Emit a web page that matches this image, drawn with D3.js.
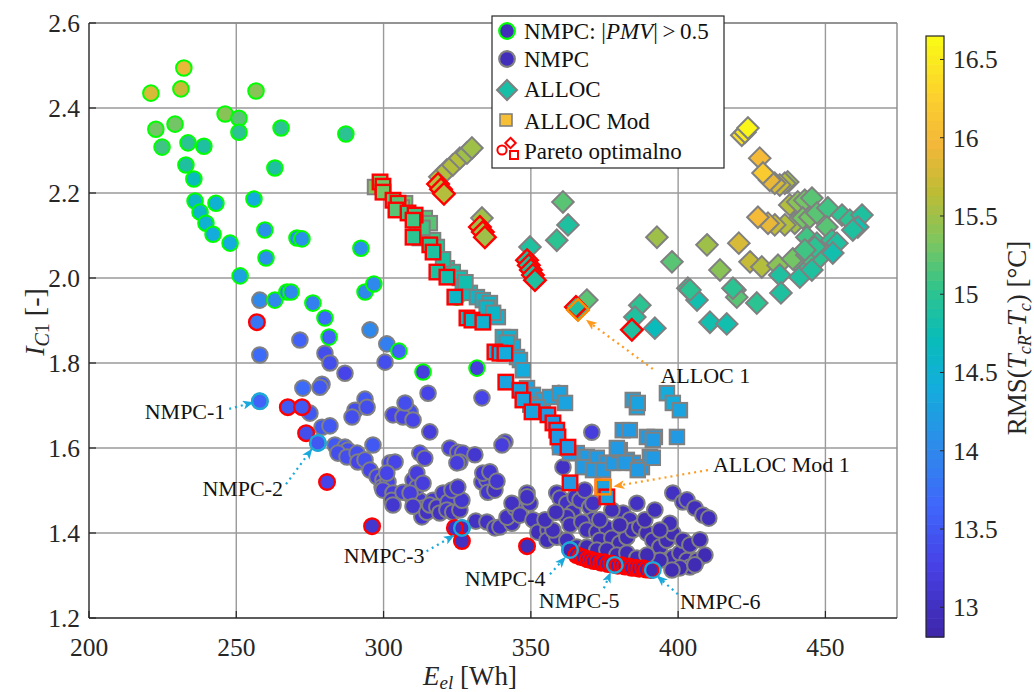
<!DOCTYPE html>
<html lang="en">
<head>
<meta charset="utf-8">
<title>Pareto NMPC / ALLOC</title>
<script src="https://cdn.jsdelivr.net/npm/d3@7"></script>
<style>
    body { margin: 0; background: #fff; }
    svg, svg text { font-family: "Liberation Serif", "Times New Roman", serif; }
</style>
</head>
<body>
<svg id="chart" width="1034" height="692" font-family="Liberation Serif, serif"></svg>
<script>
// ---- data: [E_el (Wh), I_C1, RMS (degC)] ----
var nmpcPmv = [
    [232.2,2.494,15.9],[221.0,2.435,15.8],[231.2,2.445,15.7],[256.7,2.440,15.4],[246.2,2.386,15.4],
    [250.9,2.376,15.2],[250.9,2.343,15.0],[265.2,2.353,15.0],[287.2,2.339,15.0],[222.7,2.350,15.3],
    [229.2,2.362,15.3],[224.8,2.308,15.1],[233.6,2.318,15.0],[239.0,2.310,14.9],[232.9,2.266,14.9],
    [235.6,2.233,14.7],[263.1,2.259,14.9],[236.0,2.181,14.6],[243.1,2.176,14.5],[237.7,2.155,14.6],
    [239.7,2.129,14.5],[242.1,2.103,14.4],[247.9,2.082,14.4],[256.0,2.186,14.4],[259.7,2.113,14.1],
    [270.6,2.094,14.1],[272.3,2.092,14.1],[260.1,2.047,14.1],[292.3,2.070,14.1],[251.3,2.005,14.3],
    [263.1,1.948,14.0],[267.2,1.967,14.0],[268.6,1.967,14.0],[276.0,1.941,13.9],[280.1,1.906,13.7],
    [281.5,1.861,13.6],[293.7,1.967,14.0],[296.7,1.986,14.0],[305.2,1.828,13.6],[313.4,1.779,13.2],
    [331.7,1.788,13.2],[324.9,1.955,13.9]
];

var nmpc = [
    [258.0,1.948,14.0],[271.6,1.854,13.6],[258.0,1.819,13.7],[280.1,1.823,13.4],[281.8,1.800,13.4],
    [286.9,1.776,13.3],[295.4,1.878,14.0],[300.5,1.802,13.4],[301.1,1.845,13.9],[279.1,1.750,13.5],
    [272.6,1.741,13.7],[278.4,1.743,13.5],[275.0,1.682,13.5],[279.1,1.649,13.5],[281.8,1.652,13.5],
    [293.7,1.715,13.5],[290.3,1.689,13.4],[289.3,1.673,13.4],[303.2,1.678,13.3],[309.0,1.685,13.4],
    [306.6,1.673,13.3],[310.0,1.666,13.3],[315.1,1.729,13.3],[315.7,1.638,13.2],[333.4,1.718,13.3],
    [341.2,1.614,13.2],[340.2,1.607,13.2],[294.4,1.696,13.4],[307.3,1.706,13.4],[258.0,1.710,13.6],
    [277.7,1.612,13.5],[283.5,1.607,13.5],[286.9,1.602,13.5],[287.9,1.595,13.4],[284.5,1.588,13.4],
    [287.6,1.579,13.4],[291.0,1.588,13.4],[291.3,1.567,13.3],[293.7,1.572,13.4],[296.4,1.607,13.5],
    [295.4,1.548,13.3],[297.8,1.532,13.3],[299.8,1.525,13.2],[299.5,1.508,13.2],[301.5,1.520,13.3],
    [302.2,1.565,13.3],[303.9,1.567,13.3],[301.1,1.541,13.3],[299.8,1.501,13.2],[303.2,1.494,13.2],
    [302.8,1.477,13.1],[303.2,1.466,13.1],[306.6,1.496,13.2],[309.6,1.485,13.2],[312.3,1.477,13.1],
    [313.4,1.459,13.1],[313.0,1.438,13.1],[310.0,1.525,13.2],[311.3,1.508,13.2],[311.3,1.541,13.2],
    [309.0,1.494,13.2],[310.0,1.463,13.1],[312.3,1.588,13.3],[314.0,1.576,13.2],[313.4,1.517,13.2],
    [316.8,1.477,13.1],[314.7,1.449,13.0],[315.7,1.466,13.1],[318.1,1.461,13.0],[319.1,1.447,13.0],
    [320.2,1.494,13.1],[321.9,1.473,13.1],[321.5,1.454,13.1],[323.5,1.449,13.0],[325.9,1.454,13.0],
    [326.6,1.477,13.1],[322.5,1.600,13.2],[325.2,1.590,13.2],[326.9,1.588,13.2],[325.9,1.567,13.2],
    [324.9,1.565,13.2],[331.0,1.584,13.1],[333.4,1.520,13.1],[335.1,1.525,13.1],[335.4,1.496,13.1],
    [337.8,1.501,13.0],[323.2,1.501,13.1],[325.2,1.508,13.1],[333.7,1.541,13.1],[336.1,1.544,13.1],
    [338.5,1.522,13.1],[326.6,1.412,13.0],[331.3,1.428,13.0],[335.1,1.426,13.0],[337.8,1.412,13.0],
    [339.5,1.414,13.0],[343.6,1.423,13.0],[341.9,1.437,13.0],[344.6,1.459,13.0],[343.6,1.470,13.0],
    [346.3,1.442,13.0],[348.7,1.494,13.0],[349.7,1.470,13.0],[350.7,1.431,13.0],[348.7,1.485,13.0],
    [352.4,1.402,12.95],[355.8,1.407,12.95],[355.5,1.383,12.95],[358.8,1.390,12.95],[357.5,1.407,12.95],
    [358.8,1.494,13.0],[359.9,1.482,13.0],[359.5,1.729,13.3],[370.7,1.637,13.2],[360.9,1.555,13.0],
    [362.2,1.595,13.1],[359.9,1.602,13.1],[362.2,1.470,13.0],[364.3,1.449,12.95],[365.0,1.485,13.0],
    [366.7,1.477,13.0],[368.3,1.501,13.0],[370.0,1.461,12.95],[371.1,1.470,13.0],[371.1,1.431,12.95],
    [362.2,1.438,12.95],[363.3,1.419,12.95],[367.3,1.426,12.95],[369.0,1.407,12.95],[372.4,1.402,12.9],
    [375.8,1.412,12.9],[373.4,1.383,12.9],[377.5,1.388,12.9],[380.2,1.376,12.9],[382.6,1.390,12.9],
    [386.0,1.470,13.0],[381.3,1.447,12.95],[383.6,1.431,12.95],[384.6,1.407,12.9],[387.0,1.414,12.9],
    [389.4,1.400,12.9],[391.4,1.383,12.9],[393.8,1.367,12.9],[396.2,1.383,12.9],[398.2,1.343,12.9],
    [400.6,1.353,12.9],[403.0,1.336,12.9],[404.0,1.320,12.9],[406.4,1.336,12.9],[398.2,1.400,12.9],
    [401.6,1.383,12.9],[397.2,1.423,12.95],[398.2,1.494,13.0],[401.6,1.473,13.0],[403.0,1.478,13.0],
    [405.7,1.459,12.95],[408.4,1.442,12.95],[410.4,1.435,12.95],[393.8,1.336,12.9],[400.6,1.318,12.9],
    [362.2,1.383,12.95],[365.6,1.367,12.95],[369.0,1.367,12.9],[372.4,1.360,12.9],[375.8,1.360,12.9],
    [379.2,1.348,12.9],[382.6,1.353,12.9],[386.0,1.341,12.9],[389.4,1.348,12.9],[363.3,1.360,12.9],
    [354.8,1.431,12.95],[358.5,1.449,12.95],[373.4,1.431,12.95],[377.5,1.454,12.95],[380.2,1.419,12.9],
    [388.7,1.431,12.9],[392.1,1.454,12.95],[393.8,1.407,12.9],[404.0,1.372,12.9],[407.4,1.384,12.9],
    [409.1,1.348,12.9],[397.9,1.313,12.9],[405.7,1.325,12.9]
];

var alloc = [
    [319.1,2.238,15.6],[321.5,2.254,15.6],[323.5,2.266,15.6],[325.9,2.282,15.6],[328.3,2.294,15.5],
    [330.0,2.306,15.5],[333.4,2.141,15.5],[349.7,2.073,14.9],[360.9,2.179,15.2],[362.6,2.125,14.9],
    [358.8,2.089,15.0],[369.0,1.948,15.2],[366.0,1.925,14.9],[387.0,1.936,15.0],[385.3,1.908,14.9],
    [392.1,1.882,14.7],[392.8,2.096,15.5],[397.9,2.038,15.2],[403.3,1.976,15.0],[406.4,1.948,14.8],
    [404.0,1.972,15.0],[409.8,2.078,15.5],[414.2,2.019,15.4],[420.6,2.082,15.8],[424.4,2.038,15.7],
    [428.4,2.026,15.6],[433.9,2.030,15.4],[434.5,2.007,14.9],[410.8,1.896,14.8],[416.5,1.892,14.8],
    [419.3,1.972,14.9],[419.9,1.955,15.2],[418.6,1.976,15.0],[426.7,1.941,15.0],[434.9,1.965,14.9],
    [439.6,2.042,15.1],[441.3,2.002,14.9],[444.7,2.026,15.0],[448.1,2.049,15.0],[438.9,2.045,15.3],
    [443.7,2.054,15.1],[445.4,2.019,14.9],
    [421.6,2.336,16.4],[422.7,2.343,16.5],[423.7,2.353,16.6],[427.7,2.282,16.0],
    [437.2,2.226,15.5],[436.2,2.223,15.6],[434.5,2.219,15.7],[432.8,2.223,15.8],[431.1,2.230,15.9],
    [428.8,2.247,16.2],[437.9,2.172,15.6],[440.6,2.179,15.4],[443.0,2.183,15.3],[445.4,2.188,15.2],
    [439.6,2.129,15.5],[436.2,2.125,15.6],[432.8,2.125,15.7],[430.5,2.129,15.9],[427.1,2.143,16.0],
    [442.3,2.141,15.3],[444.7,2.143,15.3],[447.1,2.153,15.2],[450.8,2.165,15.1],[455.6,2.148,15.0],
    [458.3,2.136,15.0],[462.4,2.148,14.9],[461.0,2.120,14.8],[443.7,2.096,15.1],[447.1,2.082,15.0],
    [450.5,2.120,15.2],[452.2,2.089,15.0],[453.9,2.082,14.9],[452.5,2.059,14.8],[446.4,2.073,15.0],
    [443.0,2.066,15.1],[459.3,2.113,14.9]
];

var allocMod = [
    [297.1,2.214,15.4],[307.3,2.176,15.3],[314.0,2.141,15.2],[315.7,2.129,15.2],[311.3,2.108,15.1],
    [312.3,2.094,15.1],[316.8,2.089,15.1],[318.1,2.073,15.0],[321.5,2.023,14.9],[323.5,2.014,14.9],
    [325.9,2.000,14.8],[326.9,1.979,14.7],[329.3,1.965,14.7],[331.7,1.955,14.6],[333.7,1.948,14.6],
    [336.1,1.941,14.6],[338.8,1.908,14.5],[340.5,1.861,14.5],[342.9,1.861,14.5],[343.9,1.838,14.4],
    [345.3,1.814,14.4],[346.3,1.807,14.4],[347.3,1.783,14.4],[348.7,1.741,14.3],[350.7,1.725,14.3],
    [354.1,1.713,14.3],[356.5,1.720,14.3],[359.9,1.729,14.3],[361.6,1.706,14.3],[365.6,1.588,14.2],
    [369.0,1.579,14.2],[372.4,1.577,14.2],[375.8,1.565,14.2],[367.7,1.555,14.2],[371.1,1.548,14.2],
    [374.5,1.548,14.2],[377.9,1.565,14.2],[363.3,1.588,14.2],[359.9,1.602,14.2],[384.6,1.713,14.3],
    [386.0,1.696,14.3],[389.4,1.626,14.2],[392.1,1.626,14.2],[381.2,1.642,14.2],[383.6,1.642,14.2],
    [380.2,1.595,14.2],[382.6,1.572,14.2],[384.6,1.565,14.2],[387.7,1.555,14.2],[390.4,1.579,14.2],
    [396.2,1.729,14.4],[398.2,1.706,14.4],[400.6,1.689,14.3],[399.6,1.626,14.2],[386.3,1.706,14.3],
    [391.4,1.619,14.2],[379.2,1.600,14.2],[381.9,1.565,14.2],[386.3,1.548,14.2],[391.4,1.577,14.2],
    [306.2,2.166,15.3],[313.2,2.118,15.1],[320.2,2.044,14.9],[327.8,1.990,14.8],[335.0,1.930,14.6],
    [337.2,1.918,14.6],[341.8,1.848,14.5],[349.8,1.702,14.3],[352.4,1.696,14.3]
];

var paretoNmpc = [
    [257.0,1.896,13.8],[267.5,1.696,13.5],[272.3,1.696,13.5],[273.7,1.635,13.4],[280.8,1.520,13.3],
    [296.1,1.416,13.1],[324.2,1.412,13.0],[326.6,1.381,13.0],[348.7,1.369,12.95],
    [365.5,1.348,12.9],[366.9,1.344,12.9],[368.0,1.342,12.9],[369.3,1.338,12.9],[370.4,1.337,12.9],
    [371.4,1.334,12.9],[372.7,1.333,12.9],[373.9,1.330,12.9],[374.9,1.331,12.9],[376.2,1.327,12.9],
    [377.4,1.328,12.9],[378.5,1.325,12.9],[379.5,1.323,12.9],[380.9,1.324,12.9],[382.0,1.321,12.9],
    [383.3,1.321,12.9],[384.3,1.318,12.9],[385.7,1.318,12.9],[386.8,1.316,12.9],[388.1,1.317,12.9],
    [389.2,1.314,12.9],[390.7,1.313,12.9]
];

var paretoAlloc = [
    [318.5,2.221,15.6],[319.5,2.209,15.6],[320.5,2.198,15.6],[332.7,2.120,15.5],[333.7,2.108,15.5],
    [334.4,2.096,15.5],[348.7,2.042,14.9],[349.3,2.030,14.9],[350.0,2.019,14.9],[350.7,2.007,14.9],
    [351.4,1.995,14.9],[365.3,1.932,14.9],[384.3,1.878,14.9]
];

var paretoAllocMod = [
    [298.8,2.226,15.3],[299.8,2.216,15.3],[299.8,2.202,15.3],[303.2,2.183,15.2],[304.9,2.176,15.2],
    [304.2,2.160,15.2],[308.3,2.153,15.1],[310.7,2.148,15.1],[310.0,2.136,15.1],[310.0,2.096,15.0],
    [315.7,2.078,15.0],[316.8,2.061,14.9],[318.1,2.014,14.9],[321.5,2.002,14.8],[324.2,1.955,14.6],
    [328.3,1.906,14.6],[330.0,1.901,14.6],[333.7,1.896,14.5],[337.8,1.826,14.4],[339.5,1.823,14.4],
    [341.2,1.823,14.4],[341.5,1.755,14.3],[346.3,1.736,14.3],[347.3,1.713,14.3],[350.4,1.685,14.3],
    [355.8,1.678,14.2],[357.5,1.659,14.2],[358.8,1.642,14.2],[359.2,1.626,14.2],[362.6,1.602,14.2],
    [363.3,1.518,14.2],[374.5,1.508,14.3],[375.8,1.485,14.3]
];

var nmpcMarked = [
    ["NMPC-1",258.0,1.710],["NMPC-2",277.7,1.612],["NMPC-3",326.6,1.412],
    ["NMPC-4",363.3,1.360],["NMPC-5",378.5,1.325],["NMPC-6",391.4,1.313]
];
var allocMarked = [["ALLOC 1",366.0,1.925,"diamond"],["ALLOC Mod 1",374.5,1.508,"square"]];

var xTicks = [200, 250, 300, 350, 400, 450];
var yTicks = [1.2, 1.4, 1.6, 1.8, 2.0, 2.2, 2.4, 2.6];
var cTicks = [13, 13.5, 14, 14.5, 15, 15.5, 16, 16.5];

// annotation layout (label -> text anchor point, arrow start, arrow end) in data units
var notes = [
    {t:"NMPC-1", c:"#19a9dc", tx:246.3, ty:1.687, a:"end",   x1:247.6, y1:1.692, x2:255.6, y2:1.707},
    {t:"NMPC-2", c:"#19a9dc", tx:265.9, ty:1.506, a:"end",   x1:266.9, y1:1.515, x2:275.6, y2:1.597},
    {t:"NMPC-3", c:"#19a9dc", tx:313.9, ty:1.348, a:"end",   x1:314.6, y1:1.357, x2:323.8, y2:1.394},
    {t:"NMPC-4", c:"#19a9dc", tx:327.6, ty:1.294, a:"start", x1:356.5, y1:1.303, x2:361.6, y2:1.342},
    {t:"NMPC-5", c:"#19a9dc", tx:352.7, ty:1.242, a:"start", x1:374.8, y1:1.270, x2:377.0, y2:1.306},
    {t:"NMPC-6", c:"#19a9dc", tx:400.6, ty:1.240, a:"start", x1:399.9, y1:1.256, x2:393.0, y2:1.298},
    {t:"ALLOC 1", c:"#ff9a1e", tx:394.0, ty:1.772, a:"start", x1:391.4, y1:1.786, x2:369.0, y2:1.900},
    {t:"ALLOC Mod 1", c:"#ff9a1e", tx:411.8, ty:1.562, a:"start", x1:410.1, y1:1.548, x2:378.4, y2:1.510}
];

// ---- scales ----
var pL = 89, pR = 897, pT = 23, pB = 618;
var x = d3.scaleLinear().domain([200, 474.3]).range([pL, pR]);
var y = d3.scaleLinear().domain([1.2, 2.6]).range([pB, pT]);

var parula = ["#3e26a8","#4741e6","#3f67fb","#2d8ce9","#12aedb","#09bcb7","#30c48c","#7ec55e","#bdbc35","#f3b73a","#fcd12e","#f9fb15"];
var parulaPos = [0, 0.12, 0.22, 0.32, 0.42, 0.5, 0.58, 0.66, 0.74, 0.82, 0.9, 1];
var cMin = 12.81, cMax = 16.65;
var color = d3.scaleLinear()
    .domain(parulaPos.map(function(t) { return cMin + t * (cMax - cMin); }))
    .range(parula)
    .clamp(true);

var svg = d3.select("#chart");
var defs = svg.append("defs");
defs.append("clipPath").attr("id", "plotClip")
    .append("rect").attr("x", pL).attr("y", pT).attr("width", pR - pL).attr("height", pB - pT);

function arrowHead(id, c) {
    defs.append("marker")
        .attr("id", id)
        .attr("viewBox", "0 0 10 8")
        .attr("refX", 9).attr("refY", 4)
        .attr("markerWidth", 11).attr("markerHeight", 9)
        .attr("markerUnits", "userSpaceOnUse")
        .attr("orient", "auto")
        .append("path").attr("d", "M0,0 L10,4 L0,8 L2.5,4 Z").attr("fill", c);
}
arrowHead("arrCyan", "#19a9dc");
arrowHead("arrOrange", "#ff9a1e");

// ---- grid ----
var grid = svg.append("g");
grid.selectAll(".gx").data(xTicks.slice(1)).enter().append("line")
    .attr("x1", function(d) { return x(d); }).attr("x2", function(d) { return x(d); })
    .attr("y1", pT).attr("y2", pB)
    .attr("stroke", "#9a9a9a").attr("stroke-width", 1.4);
grid.selectAll(".gy").data(yTicks.slice(1)).enter().append("line")
    .attr("y1", function(d) { return y(d); }).attr("y2", function(d) { return y(d); })
    .attr("x1", pL).attr("x2", pR)
    .attr("stroke", "#9a9a9a").attr("stroke-width", 1.4);

// ---- marks ----
var plot = svg.append("g").attr("clip-path", "url(#plotClip)");
var R = 7.8, D = 10.8, S = 14.5;

function diamondPath(s) { return "M0," + (-s) + "L" + s + ",0L0," + s + "L" + (-s) + ",0Z"; }

function circles(data, stroke, sw) {
    plot.append("g").selectAll("circle").data(data).enter().append("circle")
        .attr("cx", function(d) { return x(d[0]); })
        .attr("cy", function(d) { return y(d[1]); })
        .attr("r", R)
        .attr("fill", function(d) { return color(d[2]); })
        .attr("stroke", stroke).attr("stroke-width", sw);
}
function diamonds(data, stroke, sw) {
    plot.append("g").selectAll("path").data(data).enter().append("path")
        .attr("d", diamondPath(D))
        .attr("transform", function(d) { return "translate(" + x(d[0]) + "," + y(d[1]) + ")"; })
        .attr("fill", function(d) { return color(d[2]); })
        .attr("stroke", stroke).attr("stroke-width", sw);
}
function squares(data, stroke, sw) {
    plot.append("g").selectAll("rect").data(data).enter().append("rect")
        .attr("x", function(d) { return x(d[0]) - S / 2; })
        .attr("y", function(d) { return y(d[1]) - S / 2; })
        .attr("width", S).attr("height", S)
        .attr("fill", function(d) { return color(d[2]); })
        .attr("stroke", stroke).attr("stroke-width", sw);
}

circles(nmpc, "#808080", 2);
circles(nmpcPmv, "#00ff00", 2);
diamonds(alloc, "#808080", 2);
squares(allocMod, "#808080", 2);
circles(paretoNmpc, "#ff0000", 2.4);
diamonds(paretoAlloc, "#ff0000", 2.4);
squares(paretoAllocMod, "#ff0000", 2.4);

// marked solutions
plot.append("g").selectAll("circle").data(nmpcMarked).enter().append("circle")
    .attr("cx", function(d) { return x(d[1]); })
    .attr("cy", function(d) { return y(d[2]); })
    .attr("r", R).attr("fill", "none")
    .attr("stroke", "#19a9dc").attr("stroke-width", 2.4);
allocMarked.forEach(function(d) {
    if (d[3] === "diamond") {
        plot.append("path").attr("d", diamondPath(D))
            .attr("transform", "translate(" + x(d[1]) + "," + y(d[2]) + ")")
            .attr("fill", "none").attr("stroke", "#ff8c00").attr("stroke-width", 2.4);
    } else {
        plot.append("rect").attr("x", x(d[1]) - S / 2).attr("y", y(d[2]) - S / 2)
            .attr("width", S).attr("height", S)
            .attr("fill", "none").attr("stroke", "#ff8c00").attr("stroke-width", 2.4);
    }
});

// ---- annotations ----
var ann = svg.append("g");
notes.forEach(function(n) {
    ann.append("line")
        .attr("x1", x(n.x1)).attr("y1", y(n.y1))
        .attr("x2", x(n.x2)).attr("y2", y(n.y2))
        .attr("stroke", n.c).attr("stroke-width", 2.2)
        .attr("stroke-dasharray", "2,4")
        .attr("marker-end", n.c === "#19a9dc" ? "url(#arrCyan)" : "url(#arrOrange)");
    ann.append("text")
        .attr("x", x(n.tx)).attr("y", y(n.ty))
        .attr("dy", "0.35em")
        .attr("text-anchor", n.a)
        .attr("font-size", 22)
        .attr("fill", "#111")
        .text(n.t);
});

// ---- axes frame + ticks ----
var ax = svg.append("g");
ax.append("line").attr("x1", pL).attr("x2", pR).attr("y1", pT).attr("y2", pT)
    .attr("stroke", "#8a8a8a").attr("stroke-width", 1.4);
ax.append("line").attr("x1", pR).attr("x2", pR).attr("y1", pT).attr("y2", pB)
    .attr("stroke", "#8a8a8a").attr("stroke-width", 1.4);
ax.append("line").attr("x1", pL).attr("x2", pR).attr("y1", pB).attr("y2", pB)
    .attr("stroke", "#262626").attr("stroke-width", 1.4);
ax.append("line").attr("x1", pL).attr("x2", pL).attr("y1", pT).attr("y2", pB)
    .attr("stroke", "#262626").attr("stroke-width", 1.4);

ax.selectAll(".tx").data(xTicks).enter().append("line")
    .attr("x1", function(d) { return x(d); }).attr("x2", function(d) { return x(d); })
    .attr("y1", pB).attr("y2", pB - 7)
    .attr("stroke", "#262626").attr("stroke-width", 1.2);
ax.selectAll(".ty").data(yTicks).enter().append("line")
    .attr("y1", function(d) { return y(d); }).attr("y2", function(d) { return y(d); })
    .attr("x1", pL).attr("x2", pL + 7)
    .attr("stroke", "#262626").attr("stroke-width", 1.2);

ax.selectAll(".lx").data(xTicks).enter().append("text")
    .attr("x", function(d) { return x(d); }).attr("y", pB + 38)
    .attr("text-anchor", "middle").attr("font-size", 25.5).attr("fill", "#262626")
    .text(function(d) { return d; });
ax.selectAll(".ly").data(yTicks).enter().append("text")
    .attr("x", pL - 9).attr("y", function(d) { return y(d); })
    .attr("dy", "0.35em")
    .attr("text-anchor", "end").attr("font-size", 25.5).attr("fill", "#262626")
    .text(function(d) { return d3.format(".1f")(d); });

var xl = ax.append("text").attr("x", 470).attr("y", 685)
    .attr("text-anchor", "middle").attr("font-size", 27).attr("fill", "#262626");
xl.append("tspan").attr("font-style", "italic").text("E");
xl.append("tspan").attr("font-style", "italic").attr("font-size", 19).attr("dy", 4).text("el");
xl.append("tspan").attr("dy", -4).text(" [Wh]");

var yl = ax.append("text")
    .attr("transform", "translate(44,322) rotate(-90)")
    .attr("text-anchor", "middle").attr("font-size", 28).attr("fill", "#262626");
yl.append("tspan").attr("font-style", "italic").text("I");
var ysub = yl.append("tspan").attr("font-size", 20).attr("dy", 5);
ysub.append("tspan").attr("font-style", "italic").text("C");
ysub.append("tspan").text("1");
yl.append("tspan").attr("dy", -5).text(" [-]");

// ---- legend ----
var lg = svg.append("g");
lg.append("rect").attr("x", 492).attr("y", 16).attr("width", 232).attr("height", 152)
    .attr("fill", "#fff").attr("stroke", "#262626").attr("stroke-width", 1.2);
var dark = color(12.95);
lg.append("circle").attr("cx", 507).attr("cy", 31).attr("r", R).attr("fill", dark)
    .attr("stroke", "#00ff00").attr("stroke-width", 2.2);
lg.append("circle").attr("cx", 507).attr("cy", 59).attr("r", R).attr("fill", dark)
    .attr("stroke", "#808080").attr("stroke-width", 2.2);
lg.append("path").attr("d", diamondPath(10)).attr("transform", "translate(507,90)")
    .attr("fill", color(14.85)).attr("stroke", "#808080").attr("stroke-width", 2);
lg.append("rect").attr("x", 500).attr("y", 114).attr("width", 12).attr("height", 12)
    .attr("fill", color(16.05)).attr("stroke", "#808080").attr("stroke-width", 1.6);
lg.append("circle").attr("cx", 502).attr("cy", 150).attr("r", 4.6).attr("fill", "none")
    .attr("stroke", "#ff0000").attr("stroke-width", 2);
lg.append("path").attr("d", diamondPath(5.2)).attr("transform", "translate(510.5,143)")
    .attr("fill", "none").attr("stroke", "#ff0000").attr("stroke-width", 2);
lg.append("rect").attr("x", 510).attr("y", 151).attr("width", 8).attr("height", 8)
    .attr("fill", "none").attr("stroke", "#ff0000").attr("stroke-width", 2);

var legendText = [["NMPC: |", "PMV", "|\u2009>\u20090.5", 31], ["NMPC", "", "", 59], ["ALLOC", "", "", 89],
                  ["ALLOC Mod", "", "", 121], ["Pareto optimalno", "", "", 151]];
legendText.forEach(function(r) {
    var t = lg.append("text").attr("x", 524).attr("y", r[3]).attr("dy", "0.35em")
        .attr("font-size", 23).attr("fill", "#111");
    t.append("tspan").text(r[0]);
    if (r[1]) {
        t.append("tspan").attr("font-style", "italic").text(r[1]);
        t.append("tspan").text(r[2]);
    }
});

// ---- colorbar ----
var cbX = 926, cbW = 18, cbTop = 36, cbBot = 637;
var cy = d3.scaleLinear().domain([cMin, cMax]).range([cbBot, cbTop]);
var cb = svg.append("g");
var nSteps = 64;
cb.selectAll("rect.step").data(d3.range(nSteps)).enter().append("rect")
    .attr("x", cbX).attr("width", cbW)
    .attr("y", function(i) { return cy(cMin + (i + 1) * (cMax - cMin) / nSteps); })
    .attr("height", (cbBot - cbTop) / nSteps + 0.6)
    .attr("fill", function(i) { return color(cMin + (i + 0.5) * (cMax - cMin) / nSteps); });
cb.append("rect").attr("x", cbX).attr("y", cbTop).attr("width", cbW).attr("height", cbBot - cbTop)
    .attr("fill", "none").attr("stroke", "#262626").attr("stroke-width", 1.2);
cb.selectAll(".ct").data(cTicks).enter().append("line")
    .attr("x1", cbX + cbW - 4).attr("x2", cbX + cbW)
    .attr("y1", function(d) { return cy(d); }).attr("y2", function(d) { return cy(d); })
    .attr("stroke", "#262626").attr("stroke-width", 1);
cb.selectAll(".cl").data(cTicks).enter().append("text")
    .attr("x", cbX + cbW + 9).attr("y", function(d) { return cy(d); })
    .attr("dy", "0.35em").attr("font-size", 25.5).attr("fill", "#262626")
    .text(function(d) { return d; });

var cl = cb.append("text")
    .attr("transform", "translate(1026,338) rotate(-90)")
    .attr("text-anchor", "middle").attr("font-size", 27).attr("fill", "#262626");
cl.append("tspan").text("RMS(");
cl.append("tspan").attr("font-style", "italic").text("T");
cl.append("tspan").attr("font-style", "italic").attr("font-size", 18).attr("dy", 5).text("cR");
cl.append("tspan").attr("dy", -5).text("-");
cl.append("tspan").attr("font-style", "italic").text("T");
cl.append("tspan").attr("font-style", "italic").attr("font-size", 18).attr("dy", 5).text("c");
cl.append("tspan").attr("dy", -5).text(") [\u00B0C]");
</script>
</body>
</html>
